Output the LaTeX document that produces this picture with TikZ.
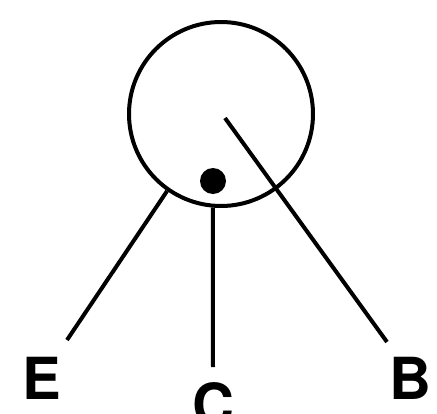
\documentclass[tikz,border=0pt]{standalone}
\usepackage{fontspec}
\setsansfont{TeX Gyre Heros}
\begin{document}
\begin{tikzpicture}[
    x=1pt, y=-1pt,
    rod/.style={draw, line width=4pt},
    wheel/.style={circle, draw, line width=4pt, minimum size=184pt, inner sep=0pt},
    dot/.style={circle, fill=black, inner sep=0pt, minimum size=26pt},
    letter/.style={font=\sffamily\bfseries\fontsize{58}{58}\selectfont, inner sep=0pt}
]
\useasboundingbox (0,0) rectangle (437,413);
\node[wheel] (w) at (221,114) {};
\node[dot] (d) at (213,181) {};
\coordinate (hub) at (225,118);
\coordinate (eEnd) at (67,340);
\coordinate (cEnd) at (213,367);
\coordinate (bEnd) at (387,342);
\node[letter] (E) at (42,378) {E};
\node[letter] (C) at (213,404) {C};
\node[letter] (B) at (410,378) {B};
\draw[rod] (w.235) -- (eEnd);
\draw[rod] (w.265) -- (cEnd);
\draw[rod] (hub) -- (bEnd);
\end{tikzpicture}
\end{document}
